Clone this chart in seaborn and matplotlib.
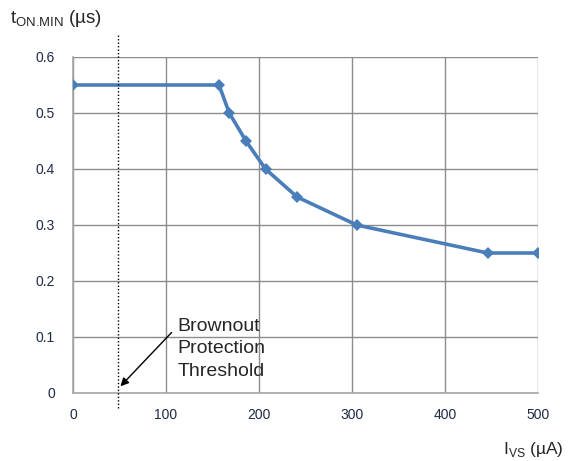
import matplotlib
matplotlib.use("Agg")
import matplotlib.pyplot as plt
import seaborn as sns
import pandas as pd

# values
ivs_ua = [0, 157, 168, 186, 207, 241, 305, 446, 500]
ton_min_us = [0.55, 0.55, 0.50, 0.45, 0.40, 0.35, 0.30, 0.25, 0.25]
x_ticks = [0, 100, 200, 300, 400, 500]
y_ticks = [0, 0.1, 0.2, 0.3, 0.4, 0.5, 0.6]
threshold_ua = 48

df = pd.DataFrame({"ivs": ivs_ua, "ton": ton_min_us})

sns.set_style("white")
plt.rcParams["font.family"] = ["Liberation Sans", "DejaVu Sans"]
plt.rcParams["mathtext.fontset"] = "custom"
plt.rcParams["mathtext.rm"] = "Liberation Sans"

W, H = 569, 461
fig = plt.figure(figsize=(W / 100, H / 100), dpi=100)
ax = fig.add_axes([73 / W, 1 - 393 / H, 465 / W, 336 / H])

sns.lineplot(data=df, x="ivs", y="ton", ax=ax, color="#4a7ebb", linewidth=2.6,
             marker="D", markersize=6, markeredgewidth=0, zorder=3)

ax.set_xlim(0, 500)
ax.set_ylim(0, 0.6)
ax.set_xticks(x_ticks)
ax.set_yticks(y_ticks)
ax.set_xticklabels([str(v) for v in x_ticks])
ax.set_yticklabels(["0"] + [f"{v:.1f}" for v in y_ticks[1:]])
ax.grid(True, color="#8c8c8c", linewidth=1)
ax.set_axisbelow(True)
for side in ["top", "right"]:
    ax.spines[side].set_visible(False)
for side in ["left", "bottom"]:
    ax.spines[side].set_color("#a6a6a6")
    ax.spines[side].set_linewidth(1.2)
ax.tick_params(axis="both", length=5, color="#a6a6a6", labelsize=10,
               labelcolor="#1f2a44", pad=6)
ax.tick_params(axis="y", pad=8)
ax.set_xlabel("")
ax.set_ylabel("")

# brownout threshold marker
ax.plot([threshold_ua, threshold_ua], [-0.027, 0.643], color="black",
        linestyle=(0, (1, 1.5)), linewidth=1, clip_on=False, zorder=4)
ax.text(112, 0.134, "Brownout\nProtection\nThreshold", fontsize=14,
        ha="left", va="top", linespacing=1.42)
ax.annotate("", xy=(threshold_ua + 3, 0.012), xytext=(106, 0.108),
            arrowprops=dict(arrowstyle="-|>", color="black", lw=1,
                            shrinkA=0, shrinkB=0, mutation_scale=12))

fig.text(10 / W, 1 - 23 / H, r"t$_{\text{ON.MIN}}$ (µs)",
         fontsize=13.5, ha="left", va="baseline")
fig.text(503 / W, 1 - 454 / H, r"I$_{\text{VS}}$ (µA)",
         fontsize=12.5, ha="left", va="baseline")

fig.savefig("out.png", dpi=100)
